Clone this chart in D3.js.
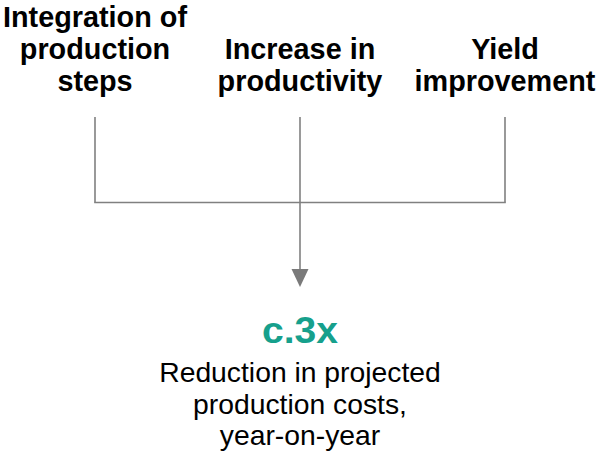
<!DOCTYPE html>
<html><head><meta charset="utf-8">
<script src="https://cdn.jsdelivr.net/npm/d3@7"></script>
<style>html,body{margin:0;padding:0;background:#fff;}</style>
</head><body>
<svg id="c" width="599" height="455"></svg>
<script>
const drivers = [
  ["Integration of", "production", "steps"],
  ["Increase in", "productivity"],
  ["Yield", "improvement"]
];
const resultValue = "c.3x";
const resultLines = ["Reduction in projected", "production costs,", "year-on-year"];

const svg = d3.select("#c");
const W = 599;
const x = d3.scalePoint().domain(d3.range(drivers.length)).range([95, 505]);
const font = "'Liberation Sans', Arial, sans-serif";
const lineColor = "#808080";
const lh = 32;
const bottomY = 91; // baseline of last header line

// headers (bottom aligned)
drivers.forEach((lines, i) => {
  const t = svg.append("text").attr("text-anchor", "middle")
    .attr("font-family", font).attr("font-weight", "bold").attr("font-size", 28.8)
    .attr("fill", "#000");
  lines.forEach((l, j) => {
    t.append("tspan").attr("x", x(i)).attr("y", bottomY - (lines.length - 1 - j) * lh).text(l);
  });
});

// connectors
const yTop = 117, yJoin = 202.5;
drivers.forEach((d, i) => {
  svg.append("line").attr("x1", x(i)).attr("x2", x(i)).attr("y1", yTop).attr("y2", yJoin)
    .attr("stroke", lineColor).attr("stroke-width", 1.6);
});
svg.append("line").attr("x1", x(0) - 0.8).attr("x2", x(drivers.length - 1) + 0.8)
  .attr("y1", yJoin).attr("y2", yJoin).attr("stroke", lineColor).attr("stroke-width", 1.6);
const cx = W / 2 + 0.5;
svg.append("line").attr("x1", cx).attr("x2", cx).attr("y1", yJoin).attr("y2", 272)
  .attr("stroke", lineColor).attr("stroke-width", 1.6);
svg.append("path").attr("d", d3.line()([[cx - 8.5, 269], [cx + 8.5, 269], [cx, 287]]) + "Z")
  .attr("fill", "#7a7a7a");

// result
svg.append("text").attr("x", cx).attr("y", 342.5).attr("text-anchor", "middle")
  .attr("font-family", font).attr("font-weight", "bold").attr("font-size", 36.5)
  .attr("textLength", 76).attr("lengthAdjust", "spacingAndGlyphs")
  .attr("fill", "#16a08c").text(resultValue);
const rt = svg.append("text").attr("text-anchor", "middle")
  .attr("font-family", font).attr("font-size", 28.3).attr("fill", "#000");
resultLines.forEach((l, j) => {
  rt.append("tspan").attr("x", cx).attr("y", 382 + j * 31.5).text(l);
});
</script>
</body></html>
